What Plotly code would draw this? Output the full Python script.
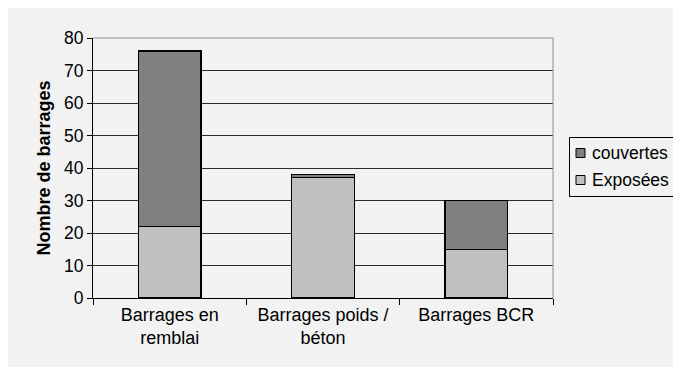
import plotly.graph_objects as go

# Dam types and counts of exposed / covered membranes
categories = ["Barrages en<br>remblai", "Barrages poids /<br>béton", "Barrages BCR"]
exposees = [22, 37, 15]
couvertes = [54, 1, 15]
y_ticks = [0, 10, 20, 30, 40, 50, 60, 70, 80]

FONT = "Liberation Sans, Arial, sans-serif"
BG = "#f2f2f2"
W, H = 673, 376
L, R, T, B = 93, 120, 38, 78
PW, PH = W - L - R, H - T - B

COLORS = {"Exposées": "#c0c0c0", "couvertes": "#808080"}


def px_x(x):
    """Pixel column -> paper x."""
    return (x - L) / PW


def px_y(y):
    """Pixel row -> paper y."""
    return (H - B - y) / PH


fig = go.Figure()
fig.add_trace(go.Bar(
    x=categories, y=exposees, name="Exposées",
    marker=dict(color=COLORS["Exposées"], line=dict(color="#000000", width=1.3)),
))
fig.add_trace(go.Bar(
    x=categories, y=couvertes, name="couvertes",
    marker=dict(color=COLORS["couvertes"], line=dict(color="#000000", width=1.3)),
))

shapes = [
    # outer chart area
    dict(type="rect", xref="paper", yref="paper",
         x0=px_x(8), x1=px_x(690), y0=px_y(367), y1=px_y(8),
         fillcolor=BG, line=dict(width=0), layer="below"),
    # right and top border of the plot area
    dict(type="line", xref="paper", yref="paper", x0=1, x1=1, y0=0, y1=1,
         line=dict(color="#8c8c8c", width=1)),
    dict(type="line", xref="paper", yref="paper", x0=0, x1=1, y0=1, y1=1,
         line=dict(color="#8c8c8c", width=1)),
    # legend frame
    dict(type="rect", xref="paper", yref="paper",
         x0=px_x(569.5), x1=px_x(690), y0=px_y(196.5), y1=px_y(137.5),
         fillcolor=BG, line=dict(color="#000000", width=1)),
]
annotations = []

# legend entries: couvertes on top, Exposées below
for name, cy in (("couvertes", 153), ("Exposées", 180)):
    shapes.append(dict(type="rect", xref="paper", yref="paper",
                       x0=px_x(576), x1=px_x(585), y0=px_y(cy + 4.5), y1=px_y(cy - 4.5),
                       fillcolor=COLORS[name], line=dict(color="#000000", width=1)))
    annotations.append(dict(text=name, xref="paper", yref="paper",
                            x=px_x(590), y=px_y(cy), xanchor="left", yanchor="middle",
                            showarrow=False, font=dict(family=FONT, size=17.5)))

fig.update_layout(
    width=W, height=H,
    barmode="stack", bargap=0.59,
    paper_bgcolor="#ffffff", plot_bgcolor=BG,
    margin=dict(l=L, r=R, t=T, b=B, autoexpand=False),
    font=dict(family=FONT, size=18, color="#000000"),
    showlegend=False,
    shapes=shapes,
    annotations=annotations,
)

fig.update_xaxes(
    showline=True, linecolor="#000000", linewidth=1,
    ticks="outside", tickson="boundaries", ticklen=6, tickcolor="#000000",
    tickfont=dict(family=FONT, size=18), showgrid=False,
    automargin=False,
)
fig.update_yaxes(
    range=[0, 80], tickvals=y_ticks,
    showline=True, linecolor="#000000", linewidth=1,
    ticks="outside", ticklen=5, tickcolor="#000000",
    showgrid=True, gridcolor="#2a2a2a", gridwidth=1,
    zeroline=False, automargin=False,
    tickfont=dict(family=FONT, size=17.5),
    title=dict(text="<b>Nombre de barrages</b>",
               font=dict(family=FONT, size=18), standoff=8),
)

fig.write_html("out.html")
